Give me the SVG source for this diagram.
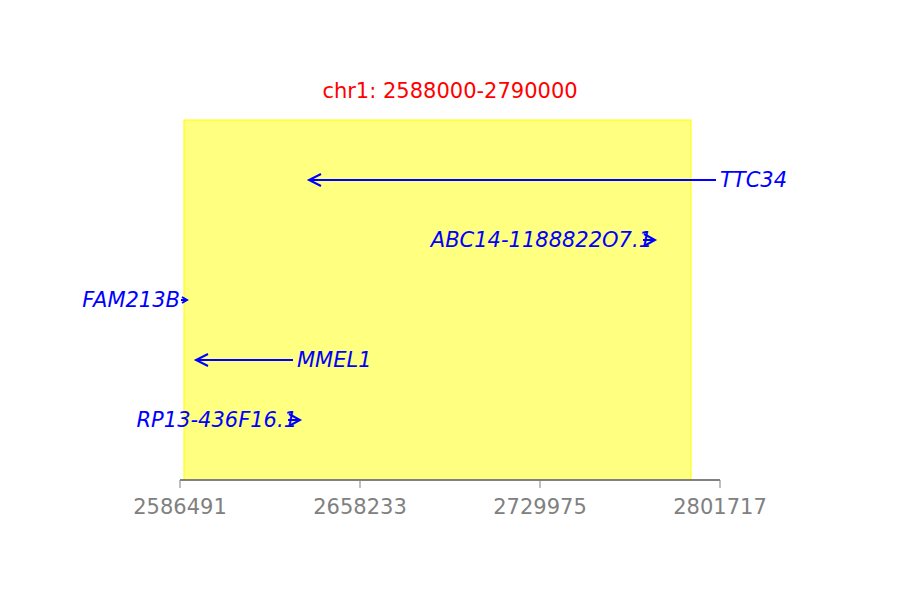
<svg xmlns="http://www.w3.org/2000/svg" width="900" height="600" viewBox="0 0 900 600">
<style>
text{font-family:"DejaVu Sans","Liberation Sans",sans-serif;font-size:21px}
.gene{fill:#0000ff;font-style:italic}
.tick{fill:#808080;text-anchor:middle}
.gl{stroke:#0000ff;stroke-width:2;fill:none}
.ax{stroke:#808080;stroke-width:2;fill:none}
.tk{stroke:#808080;stroke-width:1;fill:none}
</style>
<rect width="900" height="600" fill="#ffffff"/>
<g id="region">
<rect x="184" y="120" width="507" height="360" fill="#ffff80" stroke="#ffff00" stroke-width="1"/>
</g>
<text x="450" y="98" fill="#ff0000" text-anchor="middle">chr1: 2588000-2790000</text>
<g id="axis">
<line class="ax" x1="180" y1="480" x2="720" y2="480"/>
<line class="tk" x1="180" y1="480" x2="180" y2="488"/>
<line class="tk" x1="360" y1="480" x2="360" y2="488"/>
<line class="tk" x1="540" y1="480" x2="540" y2="488"/>
<line class="tk" x1="720" y1="480" x2="720" y2="488"/>
<text class="tick" x="180" y="514">2586491</text>
<text class="tick" x="360" y="514">2658233</text>
<text class="tick" x="540" y="514">2729975</text>
<text class="tick" x="720" y="514">2801717</text>
</g>
<g id="connectors">
<path class="gl" d="M716 180H309M321 174L309 180L321 186"/>
<path class="gl" d="M643 240H655M644 234L655 240L644 246"/>
<path class="gl" d="M181 300H187M182 297L187 300L182 303"/>
<path class="gl" d="M293 360H196M208 354L196 360L208 366"/>
<path class="gl" d="M288 420H300M289 414L300 420L289 426"/>
</g>
<g id="TTC34"><text class="gene" x="720" y="186.5">TTC34</text></g>
<g id="ABC14-1188822O7.1"><text class="gene" x="652" y="246.5" text-anchor="end">ABC14-1188822O7.1</text></g>
<g id="FAM213B"><text class="gene" x="180" y="306.5" text-anchor="end">FAM213B</text></g>
<g id="MMEL1"><text class="gene" x="297" y="366.5">MMEL1</text></g>
<g id="RP13-436F16.1"><text class="gene" x="297" y="426.5" text-anchor="end">RP13-436F16.1</text></g>
</svg>
